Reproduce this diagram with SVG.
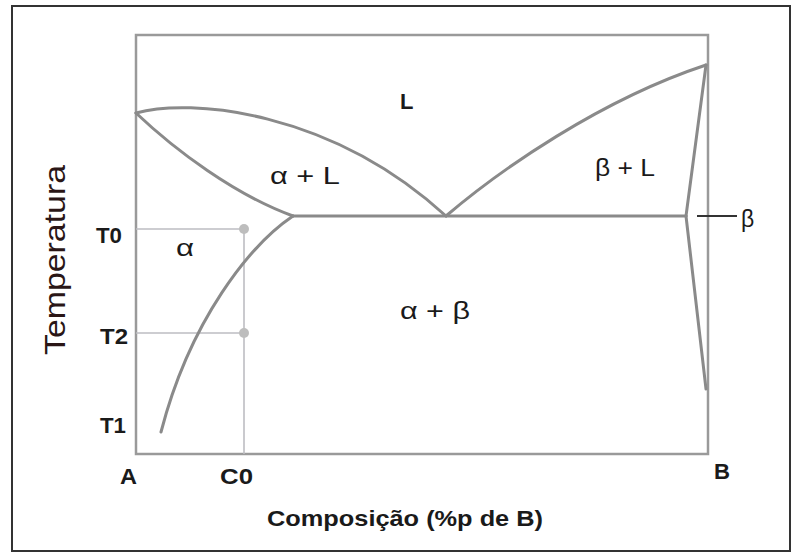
<svg xmlns="http://www.w3.org/2000/svg" width="793" height="554" viewBox="0 0 793 554">
<style>
.lbl{font-family:"Liberation Sans",Arial,sans-serif;font-weight:bold;font-size:22px;fill:#1a1a1a}
.ph{font-family:"Liberation Sans",Arial,sans-serif;font-size:23px;fill:#1a1a1a}
.curve{fill:none;stroke:#8a8a8a;stroke-width:3;stroke-linecap:round;stroke-linejoin:round}
.guide{fill:none;stroke:#bdbdc2;stroke-width:1.6}
.dot{fill:#bdbdbd}
</style>
<rect x="0" y="0" width="793" height="554" fill="#ffffff"/>
<rect id="border" x="12" y="6" width="778" height="545" fill="none" stroke="#333" stroke-width="2"/>
<g id="frame">
<rect x="136" y="35" width="572" height="419" fill="none" stroke="#9a9a9a" stroke-width="2.5"/>
</g>
<g id="guides">
<line class="guide" x1="136" y1="229" x2="244" y2="229"/>
<line class="guide" x1="136" y1="333" x2="244" y2="333"/>
<line class="guide" x1="244" y1="229" x2="244" y2="454"/>
<circle class="dot" cx="244" cy="229" r="5"/>
<circle class="dot" cx="244" cy="333" r="5"/>
</g>
<g id="connectors">
<path class="curve" d="M136,113 C190,98 330,110 446,216"/>
<path class="curve" d="M136,113 C175,150 235,195 293,216"/>
<path class="curve" d="M293,216 C250,245 190,320 161,432"/>
<line class="curve" x1="293" y1="216" x2="686" y2="216"/>
<path class="curve" d="M446,216 C500,170 600,100 706,65"/>
<line class="curve" x1="706" y1="65" x2="686" y2="216"/>
<line class="curve" x1="686" y1="216" x2="706" y2="389"/>
<line x1="697" y1="216" x2="737" y2="216" stroke="#333" stroke-width="2"/>
</g>
<g id="phase-labels">
<text id="L" class="lbl" x="400" y="109" font-size="21">L</text>
<text id="aL" class="ph" x="270" y="184" textLength="70" lengthAdjust="spacingAndGlyphs">α + L</text>
<text id="bL" class="ph" x="595" y="176" textLength="60" lengthAdjust="spacingAndGlyphs">β + L</text>
<text id="a" class="ph" x="176" y="256" textLength="18" lengthAdjust="spacingAndGlyphs">α</text>
<text id="ab" class="ph" x="400" y="319" textLength="70" lengthAdjust="spacingAndGlyphs">α + β</text>
<text id="b" class="ph" x="741" y="227" font-size="26">β</text>
</g>
<g id="axis-labels">
<text class="lbl" x="96" y="243" textLength="26" lengthAdjust="spacingAndGlyphs">T0</text>
<text class="lbl" x="100" y="344" textLength="28" lengthAdjust="spacingAndGlyphs">T2</text>
<text class="lbl" x="100" y="433" textLength="26" lengthAdjust="spacingAndGlyphs">T1</text>
<text class="lbl" x="120" y="484" textLength="17" lengthAdjust="spacingAndGlyphs">A</text>
<text class="lbl" x="220" y="484" textLength="33" lengthAdjust="spacingAndGlyphs">C0</text>
<text class="lbl" x="714" y="479" textLength="16" lengthAdjust="spacingAndGlyphs">B</text>
<text class="lbl" x="267" y="526" font-size="19" textLength="276" lengthAdjust="spacingAndGlyphs">Composição (%p de B)</text>
<text x="0" y="0" transform="translate(65,260) rotate(-90)" text-anchor="middle" font-family="Liberation Sans, Arial, sans-serif" font-size="30" fill="#2a1616" textLength="190" lengthAdjust="spacingAndGlyphs">Temperatura</text>
</g>
</svg>
